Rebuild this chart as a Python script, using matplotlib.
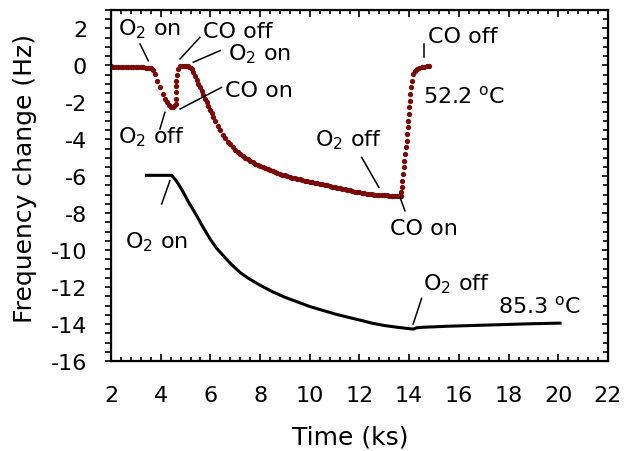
import matplotlib
matplotlib.use("Agg")
import matplotlib.pyplot as plt
from matplotlib.ticker import MultipleLocator

plt.rcParams['font.family'] = ['DejaVu Sans']
plt.rcParams['mathtext.fontset'] = 'dejavusans'
plt.rcParams['axes.unicode_minus'] = False

# 52.2 C run (sampled points)
red_t = [2.0, 2.1, 2.2, 2.3, 2.4, 2.5, 2.6, 2.7, 2.8, 2.9, 3.0, 3.1, 3.2, 3.3, 3.4, 3.5, 3.6,
         3.68, 3.77, 3.85, 3.97, 4.09, 4.18, 4.25, 4.32, 4.4, 4.48, 4.55, 4.6,
         4.62, 4.62, 4.62, 4.63, 4.64, 4.71, 4.78, 4.84, 4.93, 5.02, 5.1, 5.15, 5.2, 5.25,
         5.32, 5.38, 5.45, 5.51, 5.58, 5.65, 5.72, 5.78, 5.85, 5.92, 5.98, 6.05, 6.12, 6.19,
         6.3, 6.4, 6.5, 6.6, 6.7, 6.8, 6.9, 7.0, 7.1, 7.2, 7.3, 7.4, 7.5, 7.6, 7.7, 7.8, 7.9,
         8.0, 8.1, 8.2, 8.3, 8.4, 8.5, 8.6, 8.7, 8.8, 8.9, 9.0, 9.1, 9.2, 9.3, 9.4, 9.5, 9.6,
         9.7, 9.8, 9.9, 10.0, 10.1, 10.2, 10.3, 10.4, 10.5, 10.6, 10.7, 10.8, 10.9, 11.0,
         11.1, 11.2, 11.3, 11.4, 11.5, 11.6, 11.7, 11.8, 11.9, 12.0, 12.1, 12.2, 12.3, 12.4,
         12.5, 12.6, 12.7, 12.8, 12.9, 13.0, 13.1, 13.2, 13.3, 13.4, 13.5, 13.6, 13.66,
         13.68, 13.70, 13.73, 13.76, 13.79, 13.81, 13.84, 13.87, 13.90, 13.92, 13.94, 13.96,
         13.99, 14.01, 14.03, 14.05, 14.07, 14.1, 14.16, 14.23, 14.3, 14.4, 14.5, 14.6, 14.7, 14.8]
red_f = [-0.05, -0.06, -0.06, -0.07, -0.07, -0.08, -0.08, -0.09, -0.09, -0.10, -0.10, -0.10, -0.11, -0.11, -0.12, -0.12, -0.13,
         -0.25, -0.47, -0.84, -1.16, -1.55, -1.8, -1.98, -2.15, -2.24, -2.25, -2.2, -2.1,
         -1.82, -1.46, -1.13, -0.83, -0.52, -0.2, -0.05, -0.02, -0.01, -0.02, -0.04, -0.07, -0.12, -0.2,
         -0.38, -0.56, -0.78, -1.0, -1.18, -1.37, -1.6, -1.82, -2.0, -2.18, -2.4, -2.6, -2.8, -3.0,
         -3.28, -3.52, -3.74, -3.94, -4.12, -4.28, -4.43, -4.56, -4.68, -4.79, -4.89, -4.99, -5.08, -5.16, -5.24, -5.31, -5.38,
         -5.45, -5.51, -5.57, -5.63, -5.68, -5.73, -5.78, -5.83, -5.87, -5.91, -5.95, -5.99, -6.03, -6.07, -6.1, -6.13, -6.16,
         -6.2, -6.23, -6.26, -6.29, -6.32, -6.35, -6.38, -6.41, -6.44, -6.47, -6.5, -6.53, -6.56, -6.59,
         -6.62, -6.65, -6.68, -6.71, -6.74, -6.77, -6.8, -6.83, -6.85, -6.87, -6.9, -6.92, -6.94, -6.96,
         -6.97, -6.99, -7.0, -7.01, -7.02, -7.03, -7.04, -7.05, -7.06, -7.07, -7.08, -7.08, -7.05,
         -6.85, -6.6, -6.24, -5.88, -5.52, -5.16, -4.8, -4.43, -4.07, -3.71, -3.35, -2.99,
         -2.63, -2.26, -1.91, -1.55, -1.19, -0.83, -0.47, -0.28, -0.19, -0.14, -0.1, -0.08, -0.05, -0.02]

# 85.3 C run (continuous trace)
black_t = [3.43, 3.8, 4.1, 4.44, 4.6, 4.75, 4.91, 5.1, 5.3, 5.45, 5.7, 5.99, 6.25, 6.52, 6.85,
           7.19, 7.5, 8.0, 8.5, 9.0, 9.5, 10.0, 10.5, 11.0, 11.5, 12.0, 12.5, 13.0, 13.5, 14.0,
           14.17, 14.3, 14.6, 15.0, 15.5, 16.0, 17.0, 18.0, 19.0, 20.07]
black_f = [-5.95, -5.95, -5.95, -5.95, -6.2, -6.5, -6.87, -7.35, -7.8, -8.14, -8.75, -9.4, -9.9, -10.3, -10.78,
           -11.2, -11.5, -11.9, -12.25, -12.55, -12.8, -13.05, -13.25, -13.45, -13.62, -13.78, -13.95, -14.08, -14.17, -14.25,
           -14.27, -14.2, -14.17, -14.15, -14.12, -14.1, -14.06, -14.02, -13.98, -13.95]

x_ticks = [2, 4, 6, 8, 10, 12, 14, 16, 18, 20, 22]
y_ticks = [-16, -14, -12, -10, -8, -6, -4, -2, 0, 2]

# text labels: (text, x, y)
labels = [
    (r'O$_\mathrm{2}$ on', 2.28, 1.70),
    ('CO off', 5.70, 1.52),
    (r'O$_\mathrm{2}$ on', 6.71, 0.35),
    ('CO on', 6.59, -1.64),
    (r'O$_\mathrm{2}$ off', 2.28, -4.15),
    ('CO off', 14.76, 1.27),
    (r'52.2 $^\mathrm{o}$C', 14.56, -1.98),
    (r'O$_\mathrm{2}$ off', 10.21, -4.35),
    ('CO on', 13.23, -9.13),
    (r'O$_\mathrm{2}$ on', 2.56, -9.85),
    (r'O$_\mathrm{2}$ off', 14.56, -12.1),
    (r'85.3 $^\mathrm{o}$C', 17.57, -13.37),
]
# leader lines: (x0, x1, y0, y1)
leaders = [
    (3.17, 3.50, 1.16, 0.25),
    (5.58, 4.78, 1.52, 0.35),
    (6.39, 5.31, 0.80, 0.17),
    (6.45, 4.78, -1.19, -2.36),
    (4.17, 3.97, -2.54, -3.44),
    (14.61, 14.61, 1.16, 0.46),
    (12.09, 12.78, -4.98, -6.60),
    (13.63, 13.83, -7.14, -7.87),
    (4.04, 4.37, -7.50, -6.24),
    (14.50, 14.16, -12.61, -14.0),
]

fig = plt.figure(figsize=(6.26, 4.52), dpi=100)
ax = fig.add_axes([0.1773, 0.1991, 0.7939, 0.7766])

ax.plot(red_t, red_f, linestyle='none', marker='o', markersize=3.8,
        color='#7a0a0a', markeredgewidth=0)
ax.plot(black_t, black_f, color='black', linewidth=2.2, solid_joinstyle='round')

for x0, x1, y0, y1 in leaders:
    ax.plot([x0, x1], [y0, y1], color='black', linewidth=1.1)

for txt, x, y in labels:
    ax.text(x, y, txt, fontsize=16, ha='left', va='baseline')

ax.set_xlim(2, 22)
ax.set_ylim(-16, 3)
ax.set_xticks(x_ticks)
ax.set_yticks(y_ticks)
ax.xaxis.set_minor_locator(MultipleLocator(0.4))
ax.yaxis.set_minor_locator(MultipleLocator(0.5))

ax.tick_params(axis='x', which='major', direction='in', length=5, width=1.2,
               top=True, labelsize=16, pad=17.5)
ax.tick_params(axis='x', which='minor', direction='in', length=3.2, width=1.2, top=True)
ax.tick_params(axis='y', which='major', direction='out', length=4.2, width=1.2,
               labelsize=16, pad=13)
ax.tick_params(axis='y', which='minor', direction='out', length=4.2, width=1.2)
ax.tick_params(axis='y', which='both', right=False)
for s in ax.spines.values():
    s.set_linewidth(1.6)

# inward ticks on the right edge
ax2 = ax.twinx()
ax2.set_ylim(-16, 3)
ax2.set_yticks(y_ticks)
ax2.yaxis.set_minor_locator(MultipleLocator(0.5))
ax2.tick_params(axis='y', which='both', direction='in', length=3.3, width=1.2, labelright=False)
ax2.tick_params(axis='y', which='major', length=4)

ax.set_xlabel('Time (ks)', fontsize=18)
ax.set_ylabel('Frequency change (Hz)', fontsize=18)
ax.xaxis.set_label_coords(0.481, -0.182)
ax.yaxis.set_label_coords(-0.149, 0.524)

fig.savefig('out.png', dpi=100)
